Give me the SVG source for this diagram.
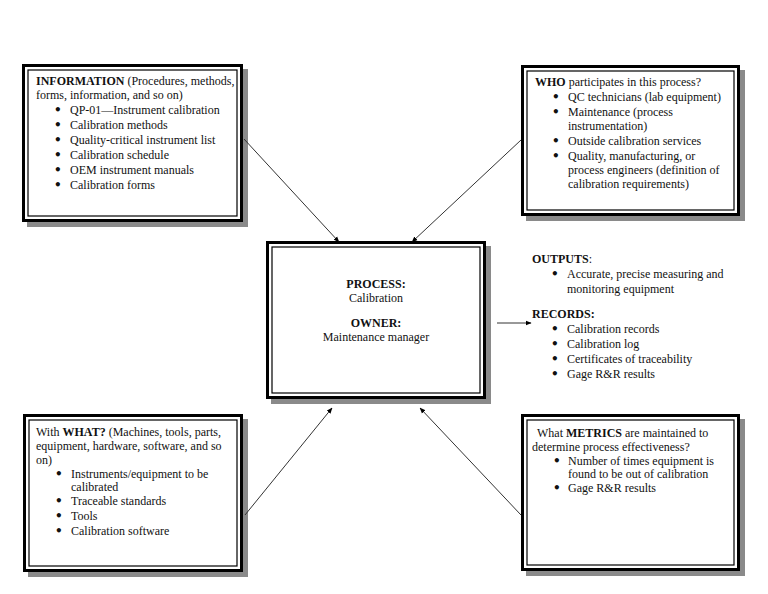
<svg xmlns="http://www.w3.org/2000/svg" width="768" height="594" viewBox="0 0 768 594">
<style>
text{font-family:"Liberation Serif","Times New Roman",serif;font-size:12px;fill:#111}
.b{font-weight:bold}
.bu{font-size:12px;font-weight:bold;font-family:"DejaVu Sans","Liberation Sans",sans-serif}
.sh{fill:#8a8a8a}
.ob{fill:#fff;stroke:#000;stroke-width:3}
.ib{fill:none;stroke:#000;stroke-width:1.2}
.cn{stroke:#333;stroke-width:1;fill:none;marker-end:url(#ah)}
</style>
<defs>
<marker id="ah" viewBox="0 0 10 10" refX="9" refY="5" markerWidth="6" markerHeight="6" markerUnits="userSpaceOnUse" orient="auto">
<path d="M0,1 L10,5 L0,9 z" fill="#000"/>
</marker>
</defs>
<rect width="768" height="594" fill="#fff"/>

<g id="node-information">
<rect class="sh" x="27" y="69" width="221" height="158"/>
<rect class="ob" x="23.5" y="65.5" width="218" height="155"/>
<rect class="ib" x="28" y="70" width="209" height="146"/>
<text x="36" y="85"><tspan class="b">INFORMATION</tspan> (Procedures, methods,</text>
<text x="36" y="99">forms, information, and so on)</text>
<text class="bu" x="54" y="114">•</text><text x="70" y="114">QP-01—Instrument calibration</text>
<text class="bu" x="54" y="129">•</text><text x="70" y="129">Calibration methods</text>
<text class="bu" x="54" y="144">•</text><text x="70" y="144">Quality-critical instrument list</text>
<text class="bu" x="54" y="159">•</text><text x="70" y="159">Calibration schedule</text>
<text class="bu" x="54" y="174">•</text><text x="70" y="174">OEM instrument manuals</text>
<text class="bu" x="54" y="189">•</text><text x="70" y="189">Calibration forms</text>
</g>

<g id="node-who">
<rect class="sh" x="526" y="70" width="219" height="151"/>
<rect class="ob" x="522.5" y="66.5" width="216" height="148"/>
<rect class="ib" x="527" y="71" width="207" height="139"/>
<text x="535" y="86"><tspan class="b">WHO</tspan> participates in this process?</text>
<text class="bu" x="552" y="101">•</text><text x="568" y="101">QC technicians (lab equipment)</text>
<text class="bu" x="552" y="116">•</text><text x="568" y="116">Maintenance (process</text>
<text x="568" y="130">instrumentation)</text>
<text class="bu" x="552" y="145">•</text><text x="568" y="145">Outside calibration services</text>
<text class="bu" x="552" y="160">•</text><text x="568" y="160">Quality, manufacturing, or</text>
<text x="568" y="174">process engineers (definition of</text>
<text x="568" y="188">calibration requirements)</text>
</g>

<g id="node-process">
<rect class="sh" x="271" y="246" width="220" height="158"/>
<rect class="ob" x="267.5" y="242.5" width="217" height="155"/>
<rect class="ib" x="272" y="247" width="208" height="146"/>
<text x="376" y="288" text-anchor="middle" class="b">PROCESS:</text>
<text x="376" y="302" text-anchor="middle">Calibration</text>
<text x="376" y="327" text-anchor="middle" class="b">OWNER:</text>
<text x="376" y="341" text-anchor="middle">Maintenance manager</text>
</g>

<g id="node-outputs">
<text x="532" y="263"><tspan class="b">OUTPUTS</tspan>:</text>
<text class="bu" x="551" y="278">•</text><text x="567" y="278">Accurate, precise measuring and</text>
<text x="567" y="293">monitoring equipment</text>
<text x="532" y="318" class="b">RECORDS:</text>
<text class="bu" x="551" y="333">•</text><text x="567" y="333">Calibration records</text>
<text class="bu" x="551" y="348">•</text><text x="567" y="348">Calibration log</text>
<text class="bu" x="551" y="363">•</text><text x="567" y="363">Certificates of traceability</text>
<text class="bu" x="551" y="378">•</text><text x="567" y="378">Gage R&amp;R results</text>
</g>

<g id="node-what">
<rect class="sh" x="28" y="419" width="220" height="158"/>
<rect class="ob" x="24.5" y="415.5" width="217" height="155"/>
<rect class="ib" x="29" y="420" width="208" height="146"/>
<text x="36" y="436">With <tspan class="b">WHAT?</tspan> (Machines, tools, parts,</text>
<text x="36" y="450">equipment, hardware, software, and so</text>
<text x="36" y="464">on)</text>
<text class="bu" x="55" y="478">•</text><text x="71" y="478">Instruments/equipment to be</text>
<text x="71" y="491">calibrated</text>
<text class="bu" x="55" y="505">•</text><text x="71" y="505">Traceable standards</text>
<text class="bu" x="55" y="520">•</text><text x="71" y="520">Tools</text>
<text class="bu" x="55" y="535">•</text><text x="71" y="535">Calibration software</text>
</g>

<g id="node-metrics">
<rect class="sh" x="526" y="419" width="219" height="157"/>
<rect class="ob" x="522.5" y="415.5" width="216" height="154"/>
<rect class="ib" x="527" y="420" width="207" height="145"/>
<text x="537" y="437">What <tspan class="b">METRICS</tspan> are maintained to</text>
<text x="532" y="451">determine process effectiveness?</text>
<text class="bu" x="553" y="465">•</text><text x="568" y="465">Number of times equipment is</text>
<text x="568" y="478">found to be out of calibration</text>
<text class="bu" x="553" y="492">•</text><text x="568" y="492">Gage R&amp;R results</text>
</g>

<g id="connectors">
<line class="cn" x1="244" y1="139" x2="339" y2="242"/>
<line class="cn" x1="521" y1="140" x2="412" y2="242"/>
<line class="cn" x1="245" y1="515" x2="332" y2="408"/>
<line class="cn" x1="521" y1="515" x2="420" y2="408"/>
<line class="cn" x1="497" y1="323" x2="531" y2="323"/>
</g>
</svg>
